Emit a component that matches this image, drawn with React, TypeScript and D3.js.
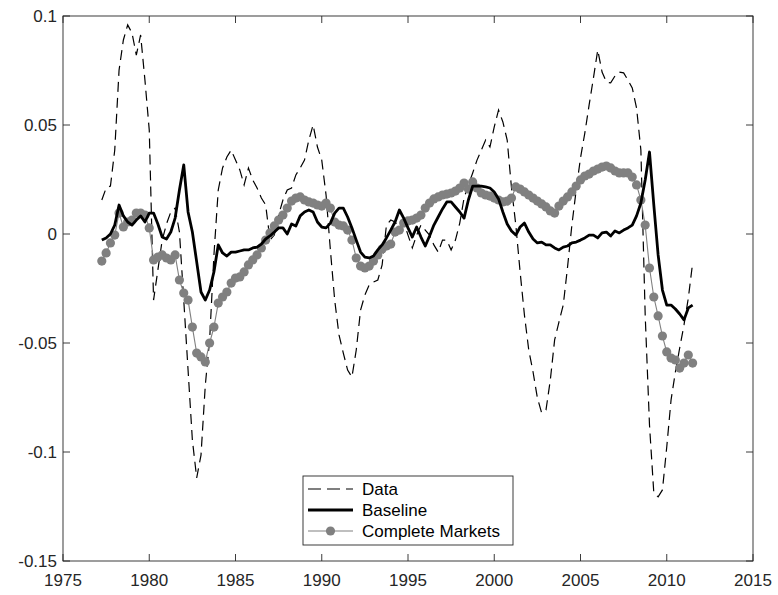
import React from "react";
import * as d3 from "d3";

// Quarterly observations, first quarter shown is 1977Q2
const START_YEAR = 1977.25;
const STEP = 0.25;

const dataValues = [
  0.0156, 0.0211, 0.0220, 0.0385, 0.0752, 0.0890, 0.0959, 0.0922, 0.0821, 0.0913,
  0.0706, 0.0477, -0.0303, -0.0165, -0.0028, 0.0046, 0.0101, 0.0119, 0.0009, -0.0303,
  -0.0624, -0.0945, -0.1119, -0.1014, -0.0693, -0.0486, -0.0096, 0.0202, 0.0303, 0.0353,
  0.0385, 0.0339, 0.0294, 0.0225, 0.0303, 0.0248, 0.0211, 0.0165, 0.0133, -0.0028,
  -0.0005, 0.0087, 0.0156, 0.0202, 0.0211, 0.0271, 0.0303, 0.0339, 0.0431, 0.0500,
  0.0399, 0.0339, 0.0179, -0.0073, -0.0303, -0.0463, -0.0546, -0.0624, -0.0656, -0.0532,
  -0.0349, -0.0280, -0.0234, -0.0220, -0.0211, -0.0142, 0.0041, 0.0064, 0.0055, 0.0028,
  0.0055, -0.0005, -0.0064, -0.0005, 0.0041, 0.0018, -0.0005, -0.0050, -0.0083, -0.0028,
  -0.0028, -0.0073, -0.0028, 0.0050, 0.0165, 0.0225, 0.0280, 0.0339, 0.0385, 0.0431,
  0.0399, 0.0491, 0.0569, 0.0514, 0.0431, 0.0211, 0.0041, -0.0174, -0.0372, -0.0532,
  -0.0633, -0.0752, -0.0821, -0.0807, -0.0670, -0.0486, -0.0404, -0.0326, -0.0151, 0.0041,
  0.0202, 0.0349, 0.0463, 0.0592, 0.0716, 0.0844, 0.0743, 0.0697, 0.0693, 0.0725,
  0.0743, 0.0739, 0.0706, 0.0670, 0.0578, 0.0385, -0.0372, -0.0876, -0.1188, -0.1206,
  -0.1174, -0.0977, -0.0761, -0.0633, -0.0523, -0.0417, -0.0294, -0.0133,
];

const baselineValues = [
  -0.0028, -0.0018, 0.0000, 0.0041, 0.0133, 0.0083, 0.0055, 0.0041, 0.0064, 0.0083,
  0.0055, 0.0096, 0.0096, 0.0046, -0.0014, -0.0023, 0.0009, 0.0073, 0.0202, 0.0317,
  0.0101, 0.0009, -0.0128, -0.0266, -0.0303, -0.0257, -0.0174, -0.0050, -0.0087, -0.0101,
  -0.0083, -0.0083, -0.0078, -0.0073, -0.0073, -0.0064, -0.0060, -0.0046, -0.0023, -0.0009,
  0.0009, 0.0028, 0.0028, 0.0000, 0.0046, 0.0037, 0.0083, 0.0101, 0.0110, 0.0101,
  0.0055, 0.0032, 0.0028, 0.0050, 0.0096, 0.0119, 0.0119, 0.0078, 0.0028, -0.0028,
  -0.0083, -0.0106, -0.0110, -0.0101, -0.0073, -0.0050, -0.0018, 0.0018, 0.0055, 0.0110,
  0.0073, 0.0028, -0.0014, 0.0032, -0.0014, -0.0055, -0.0009, 0.0041, 0.0078, 0.0115,
  0.0147, 0.0147, 0.0124, 0.0101, 0.0073, 0.0156, 0.0220, 0.0220, 0.0220, 0.0216,
  0.0211, 0.0193, 0.0161, 0.0101, 0.0046, 0.0014, -0.0005, 0.0032, 0.0050, 0.0009,
  -0.0023, -0.0041, -0.0037, -0.0050, -0.0050, -0.0064, -0.0073, -0.0060, -0.0055, -0.0041,
  -0.0037, -0.0028, -0.0018, -0.0005, -0.0005, -0.0018, 0.0005, 0.0009, -0.0009, 0.0014,
  0.0005, 0.0018, 0.0028, 0.0041, 0.0083, 0.0142, 0.0248, 0.0376, 0.0133, -0.0096,
  -0.0257, -0.0326, -0.0326, -0.0344, -0.0367, -0.0394, -0.0339, -0.0326,
];

const completeMarketsValues = [
  -0.0124, -0.0087, -0.0041, -0.0005, 0.0096, 0.0032, 0.0055, 0.0064, 0.0096, 0.0096,
  0.0087, 0.0028, -0.0119, -0.0106, -0.0096, -0.0110, -0.0119, -0.0096, -0.0211, -0.0271,
  -0.0303, -0.0427, -0.0546, -0.0564, -0.0587, -0.0500, -0.0427, -0.0317, -0.0289, -0.0266,
  -0.0225, -0.0202, -0.0197, -0.0174, -0.0142, -0.0119, -0.0096, -0.0064, -0.0028, 0.0005,
  0.0037, 0.0064, 0.0087, 0.0119, 0.0151, 0.0165, 0.0170, 0.0156, 0.0147, 0.0142,
  0.0133, 0.0128, 0.0142, 0.0119, 0.0055, 0.0041, 0.0037, 0.0018, -0.0028, -0.0110,
  -0.0147, -0.0156, -0.0147, -0.0124, -0.0096, -0.0069, -0.0055, -0.0046, 0.0009, 0.0018,
  0.0050, 0.0060, 0.0064, 0.0073, 0.0087, 0.0119, 0.0142, 0.0161, 0.0170, 0.0179,
  0.0183, 0.0188, 0.0197, 0.0211, 0.0234, 0.0206, 0.0239, 0.0211, 0.0188, 0.0179,
  0.0174, 0.0165, 0.0156, 0.0147, 0.0151, 0.0165, 0.0216, 0.0206, 0.0193, 0.0179,
  0.0165, 0.0151, 0.0138, 0.0124, 0.0106, 0.0096, 0.0128, 0.0151, 0.0170, 0.0193,
  0.0220, 0.0248, 0.0266, 0.0275, 0.0289, 0.0298, 0.0307, 0.0312, 0.0303, 0.0289,
  0.0280, 0.0280, 0.0280, 0.0261, 0.0225, 0.0156, 0.0041, -0.0156, -0.0289, -0.0376,
  -0.0468, -0.0541, -0.0569, -0.0578, -0.0615, -0.0592, -0.0555, -0.0592,
];

const xTicks = [1975, 1980, 1985, 1990, 1995, 2000, 2005, 2010, 2015];
const yTicks = [0.1, 0.05, 0, -0.05, -0.1, -0.15];
const yTickLabels = ["0.1", "0.05", "0", "-0.05", "-0.1", "-0.15"];
const legendLabels = ["Data", "Baseline", "Complete Markets"];

const AXIS_COLOR = "#262626";
const GRAY = "#808080";
const FONT = "'Liberation Sans', Arial, Helvetica, sans-serif";
const FONT_SIZE = 17;

export default function App() {
  const width = 778;
  const height = 595;
  const left = 63;
  const right = 753;
  const top = 16;
  const bottom = 561;
  const tickLen = 7;

  const x = d3.scaleLinear().domain([1975, 2015]).range([left, right]);
  const y = d3.scaleLinear().domain([-0.15, 0.1]).range([bottom, top]);

  const dates = dataValues.map((_, i) => START_YEAR + STEP * i);
  const makeLine = (vals: number[]) =>
    d3
      .line<number>()
      .x((_, i) => x(dates[i]))
      .y((d) => y(d))(vals) || "";

  const legendX = 303;
  const legendY = 476;
  const legendW = 210;
  const legendH = 69;
  const rowY = [489, 510, 531];

  return (
    <svg
      width={width}
      height={height}
      style={{ position: "absolute", left: 0, top: 0, background: "#fff" }}
      fontFamily={FONT}
    >
      <rect x={0} y={0} width={width} height={height} fill="#fff" />
      <defs>
        <clipPath id="plot-area">
          <rect x={left} y={top} width={right - left} height={bottom - top} />
        </clipPath>
      </defs>

      <g clipPath="url(#plot-area)">
        <path
          d={makeLine(dataValues)}
          fill="none"
          stroke="#000"
          strokeWidth={1.2}
          strokeDasharray="10 6"
        />
        <path
          d={makeLine(completeMarketsValues)}
          fill="none"
          stroke={GRAY}
          strokeWidth={1.1}
        />
        {completeMarketsValues.map((v, i) => (
          <circle key={i} cx={x(dates[i])} cy={y(v)} r={4.6} fill={GRAY} />
        ))}
        <path
          d={makeLine(baselineValues)}
          fill="none"
          stroke="#000"
          strokeWidth={2.8}
          strokeLinejoin="round"
        />
      </g>

      {/* axes box */}
      <rect
        x={left}
        y={top}
        width={right - left}
        height={bottom - top}
        fill="none"
        stroke={AXIS_COLOR}
        strokeWidth={0.9}
      />

      {/* x ticks on bottom and top */}
      {xTicks.map((t) => (
        <g key={"x" + t}>
          <line x1={x(t)} x2={x(t)} y1={bottom} y2={bottom - tickLen} stroke={AXIS_COLOR} strokeWidth={0.9} />
          <line x1={x(t)} x2={x(t)} y1={top} y2={top + tickLen} stroke={AXIS_COLOR} strokeWidth={0.9} />
          <text
            x={x(t)}
            y={580}
            textAnchor="middle"
            dominantBaseline="central"
            fontSize={FONT_SIZE}
            fill={AXIS_COLOR}
          >
            {t}
          </text>
        </g>
      ))}

      {/* y ticks on left and right */}
      {yTicks.map((t, i) => (
        <g key={"y" + i}>
          <line x1={left} x2={left + tickLen} y1={y(t)} y2={y(t)} stroke={AXIS_COLOR} strokeWidth={0.9} />
          <line x1={right} x2={right - tickLen} y1={y(t)} y2={y(t)} stroke={AXIS_COLOR} strokeWidth={0.9} />
          <text
            x={left - 6}
            y={y(t)}
            textAnchor="end"
            dominantBaseline="central"
            fontSize={FONT_SIZE}
            fill={AXIS_COLOR}
          >
            {yTickLabels[i]}
          </text>
        </g>
      ))}

      {/* legend */}
      <g>
        <rect
          x={legendX}
          y={legendY}
          width={legendW}
          height={legendH}
          fill="#fff"
          stroke={AXIS_COLOR}
          strokeWidth={0.9}
        />
        <line x1={308} x2={353} y1={rowY[0]} y2={rowY[0]} stroke="#000" strokeWidth={1.2} strokeDasharray="13 6" />
        <line x1={308} x2={353} y1={rowY[1]} y2={rowY[1]} stroke="#000" strokeWidth={2.8} />
        <line x1={308} x2={353} y1={rowY[2]} y2={rowY[2]} stroke={GRAY} strokeWidth={1.1} />
        <circle cx={330.5} cy={rowY[2]} r={4.6} fill={GRAY} />
        {legendLabels.map((lab, i) => (
          <text
            key={lab}
            x={362}
            y={rowY[i]}
            dominantBaseline="central"
            fontSize={FONT_SIZE}
            fill="#000"
          >
            {lab}
          </text>
        ))}
      </g>
    </svg>
  );
}
